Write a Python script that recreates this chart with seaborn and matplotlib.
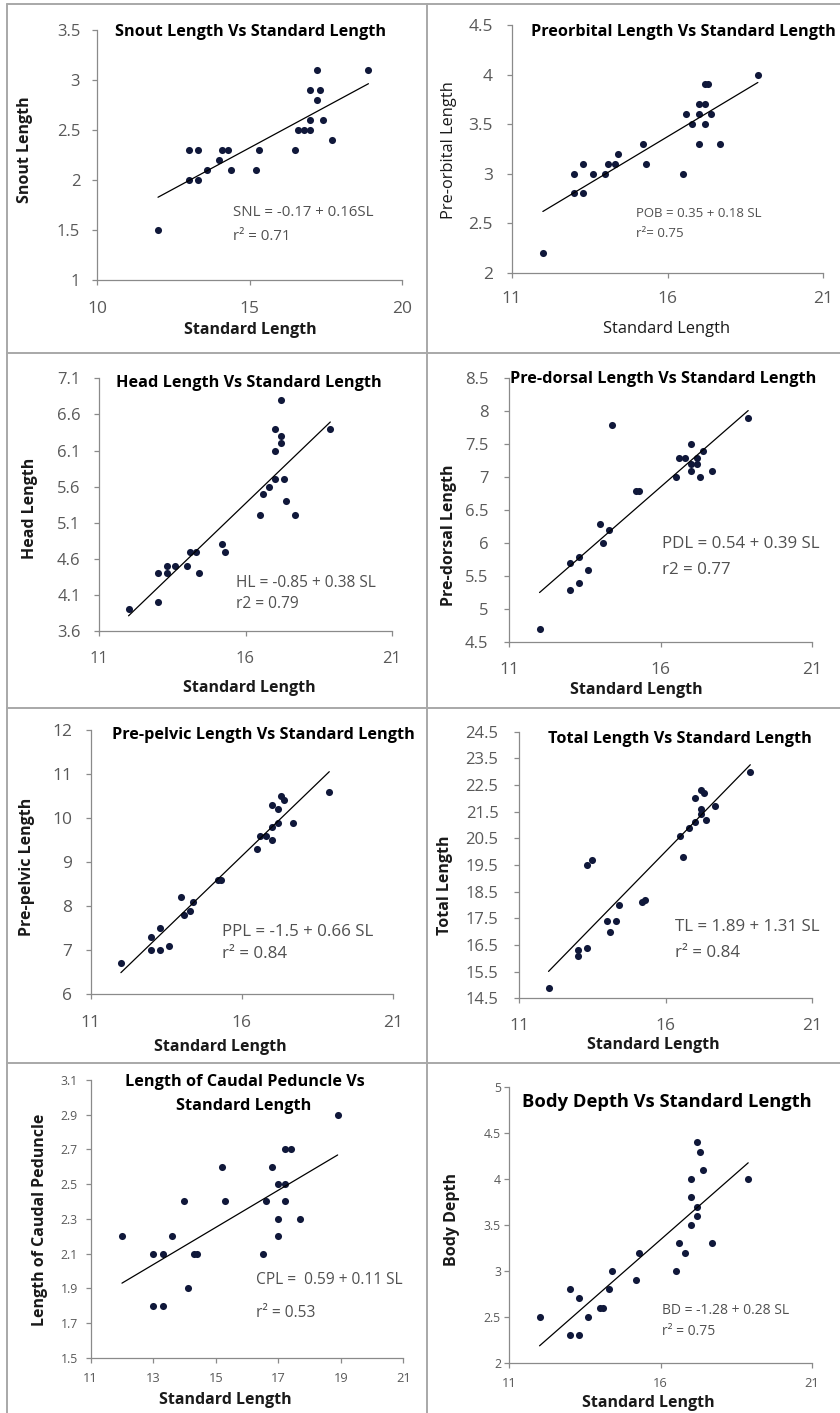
import numpy as np
import pandas as pd
import matplotlib
matplotlib.use("Agg")
import matplotlib.pyplot as plt
from matplotlib.lines import Line2D
from matplotlib.ticker import FixedLocator, FixedFormatter
import seaborn as sns

# ---- morphometric measurements (cm) against standard length ----
sl_snout = [12.0, 13.0, 13.3, 13.0, 13.3, 13.6, 14.0, 14.1, 14.3, 14.4, 15.2, 15.3,
            16.5, 16.6, 16.8, 17.0, 17.0, 17.0, 17.2, 17.2, 17.3, 17.4, 17.7, 18.9]
snout_len = [1.5, 2.3, 2.3, 2.0, 2.0, 2.1, 2.2, 2.3, 2.3, 2.1, 2.1, 2.3,
             2.3, 2.5, 2.5, 2.5, 2.6, 2.9, 2.8, 3.1, 2.9, 2.6, 2.4, 3.1]

sl_preorb = [12.0, 13.0, 13.3, 13.0, 13.3, 13.6, 14.0, 14.1, 14.3, 14.4, 15.2, 15.3,
             16.5, 16.6, 16.8, 17.0, 17.0, 17.0, 17.2, 17.3, 17.2, 17.2, 17.4, 17.7, 18.9]
preorb_len = [2.2, 2.8, 2.8, 3.0, 3.1, 3.0, 3.0, 3.1, 3.1, 3.2, 3.3, 3.1,
              3.0, 3.6, 3.5, 3.7, 3.6, 3.3, 3.9, 3.9, 3.7, 3.5, 3.6, 3.3, 4.0]

sl_head = [12.0, 13.0, 13.0, 13.3, 13.3, 13.6, 14.0, 14.1, 14.3, 14.4, 15.2, 15.3,
           16.5, 16.6, 16.8, 17.0, 17.0, 17.0, 17.2, 17.2, 17.2, 17.3, 17.4, 17.7, 18.9]
head_len = [3.9, 4.0, 4.4, 4.4, 4.5, 4.5, 4.5, 4.7, 4.7, 4.4, 4.8, 4.7,
            5.2, 5.5, 5.6, 5.7, 6.1, 6.4, 6.3, 6.2, 6.8, 5.7, 5.4, 5.2, 6.4]

sl_predors = [12.0, 13.0, 13.0, 13.3, 13.3, 13.6, 14.0, 14.1, 14.3, 14.4, 15.2, 15.3,
              16.5, 16.6, 16.8, 17.0, 17.0, 17.0, 17.2, 17.2, 17.3, 17.4, 17.7, 18.9]
predors_len = [4.7, 5.3, 5.7, 5.8, 5.4, 5.6, 6.3, 6.0, 6.2, 7.8, 6.8, 6.8,
               7.0, 7.3, 7.3, 7.5, 7.2, 7.1, 7.3, 7.2, 7.0, 7.4, 7.1, 7.9]

sl_prepel = [12.0, 13.0, 13.0, 13.3, 13.3, 13.6, 14.0, 14.1, 14.3, 14.4, 15.2, 15.3,
             16.5, 16.6, 16.8, 17.0, 17.0, 17.0, 17.2, 17.2, 17.3, 17.4, 17.7, 18.9]
prepel_len = [6.7, 7.3, 7.0, 7.5, 7.0, 7.1, 8.2, 7.8, 7.9, 8.1, 8.6, 8.6,
              9.3, 9.6, 9.6, 9.8, 9.5, 10.3, 9.9, 10.2, 10.5, 10.4, 9.9, 10.6]

sl_total = [12.0, 13.0, 13.0, 13.3, 13.3, 13.5, 14.0, 14.1, 14.3, 14.4, 15.2, 15.3,
            16.5, 16.6, 16.8, 17.0, 17.0, 17.2, 17.2, 17.3, 17.2, 17.4, 17.7, 18.9]
total_len = [14.9, 16.1, 16.3, 16.4, 19.5, 19.7, 17.4, 17.0, 17.4, 18.0, 18.1, 18.2,
             20.6, 19.8, 20.9, 22.0, 21.1, 22.3, 21.6, 22.2, 21.4, 21.2, 21.7, 23.0]

sl_caudal = [12.0, 13.0, 13.3, 13.0, 13.3, 13.6, 14.0, 14.1, 14.3, 14.4, 15.2, 15.3,
             16.5, 16.6, 16.8, 17.0, 17.0, 17.0, 17.2, 17.2, 17.2, 17.4, 17.7, 18.9]
caudal_len = [2.2, 2.1, 2.1, 1.8, 1.8, 2.2, 2.4, 1.9, 2.1, 2.1, 2.6, 2.4,
              2.1, 2.4, 2.6, 2.5, 2.3, 2.2, 2.7, 2.5, 2.4, 2.7, 2.3, 2.9]

sl_depth = [12.0, 13.0, 13.0, 13.3, 13.3, 13.6, 14.0, 14.1, 14.3, 14.4, 15.2, 15.3,
            16.5, 16.6, 16.8, 17.0, 17.0, 17.0, 17.2, 17.2, 17.2, 17.3, 17.4, 17.7, 18.9]
depth = [2.5, 2.8, 2.3, 2.7, 2.3, 2.5, 2.6, 2.6, 2.8, 3.0, 2.9, 3.2,
         3.0, 3.3, 3.2, 4.0, 3.8, 3.5, 4.4, 3.7, 3.6, 4.3, 4.1, 3.3, 4.0]

# ---- axis ticks ----
xt_snout = [10, 15, 20]
xt_std = [11, 16, 21]
xt_caudal = [11, 13, 15, 17, 19, 21]
yt_snout = ["1", "1.5", "2", "2.5", "3", "3.5"]
yt_preorb = ["2", "2.5", "3", "3.5", "4", "4.5"]
yt_head = ["3.6", "4.1", "4.6", "5.1", "5.6", "6.1", "6.6", "7.1"]
yt_predors = ["4.5", "5", "5.5", "6", "6.5", "7", "7.5", "8", "8.5"]
yt_prepel = ["6", "7", "8", "9", "10", "11", "12"]
yt_total = ["14.5", "15.5", "16.5", "17.5", "18.5", "19.5", "20.5", "21.5", "22.5", "23.5", "24.5"]
yt_caudal = ["1.5", "1.7", "1.9", "2.1", "2.3", "2.5", "2.7", "2.9", "3.1"]
yt_depth = ["2", "2.5", "3", "3.5", "4", "4.5", "5"]

W, H = 840, 1413
sns.set_theme(style="white")
plt.rcParams["font.family"] = ["Open Sans", "DejaVu Sans"]

fig = plt.figure(figsize=(W / 100, H / 100), dpi=100)
fig.patch.set_facecolor("white")

DOT = "#10183a"
TICK_C = "#595959"
SPINE_C = "#8a8a8a"
EQ_C = "#505050"


def fx(x):
    return x / W


def fy(y):
    return 1 - y / H


panels = [
    dict(x=sl_snout, y=snout_len, box=(97, 402, 30, 280), xt=xt_snout, yt=yt_snout,
         title=["Snout Length Vs Standard Length"], tpos=[(251, 32)], tsize=11.7,
         ylab="Snout Length", ypos=(25, 150), xlab="Standard Length", xpos=(250, 330),
         lbold=True, lsize=11.5, ticksize=(12.5, 12), pads=(11.5, 8.6),
         eq=["SNL = -0.17 + 0.16SL", "r\u00b2 = 0.71"], eqpos=(14.46, 1.67, 1.44), eqsize=10.8),
    dict(x=sl_preorb, y=preorb_len, box=(511.7, 823.3, 25, 272.7), xt=xt_std, yt=yt_preorb,
         title=["Preorbital Length Vs Standard Length"], tpos=[(683, 32)], tsize=11.7,
         ylab="Pre-orbital Length", ypos=(449, 150), xlab="Standard Length", xpos=(667, 329),
         lbold=False, lsize=11.8, ticksize=(12.5, 12.5), pads=(9.5, 10),
         eq=["POB = 0.35 + 0.18 SL", "r\u00b2= 0.75"], eqpos=(15.0, 2.6, 2.4), eqsize=9.5),
    dict(x=sl_head, y=head_len, box=(99.3, 391.7, 378.3, 631), xt=xt_std, yt=yt_head,
         title=["Head Length Vs Standard Length"], tpos=[(249, 383)], tsize=11.7,
         ylab="Head Length", ypos=(30, 508), xlab="Standard Length", xpos=(249, 688),
         lbold=True, lsize=11.5, ticksize=(12, 12), pads=(11, 10),
         eq=["HL = -0.85 + 0.38 SL", "r2 = 0.79"], eqpos=(15.67, 4.27, 3.98), eqsize=11.2),
    dict(x=sl_predors, y=predors_len, box=(509.3, 811.7, 378.3, 642.3), xt=xt_std, yt=yt_predors,
         title=["Pre-dorsal Length Vs Standard Length"], tpos=[(663, 379)], tsize=11.7,
         ylab="Pre-dorsal Length", ypos=(449, 535), xlab="Standard Length", xpos=(636, 690),
         lbold=True, lsize=11.5, ticksize=(12.5, 12), pads=(11, 11.5),
         eq=["PDL = 0.54 + 0.39 SL", "r2 = 0.77"], eqpos=(16.04, 5.99, 5.6), eqsize=12.2),
    dict(x=sl_prepel, y=prepel_len, box=(90.7, 392.7, 730, 994.3), xt=xt_std, yt=yt_prepel,
         title=["Pre-pelvic Length Vs Standard Length"], tpos=[(263, 735)], tsize=11.7,
         ylab="Pre-pelvic Length", ypos=(27, 867), xlab="Standard Length", xpos=(220, 1047),
         lbold=True, lsize=11.5, ticksize=(12.5, 12.5), pads=(11.5, 10),
         eq=["PPL = -1.5 + 0.66 SL", "r\u00b2 = 0.84"], eqpos=(15.34, 7.42, 6.91), eqsize=12.2),
    dict(x=sl_total, y=total_len, box=(519.3, 811.7, 731.7, 998.3), xt=xt_std, yt=yt_total,
         title=["Total Length Vs Standard Length"], tpos=[(680, 739)], tsize=11.7,
         ylab="Total Length", ypos=(445, 885), xlab="Standard Length", xpos=(653, 1045),
         lbold=True, lsize=11.5, ticksize=(12.5, 12), pads=(11, 11.5),
         eq=["TL = 1.89 + 1.31 SL", "r\u00b2 = 0.84"], eqpos=(16.33, 17.19, 16.19), eqsize=12.2),
    dict(x=sl_caudal, y=caudal_len, box=(90.7, 403.3, 1080, 1357.7), xt=xt_caudal, yt=yt_caudal,
         title=["Length of Caudal Peduncle Vs", "Standard Length"], tpos=[(245, 1082), (244, 1106)],
         tsize=11.7,
         ylab="Length of Caudal Peduncle", ypos=(40, 1220), xlab="Standard Length", xpos=(225, 1400),
         lbold=True, lsize=11.5, ticksize=(9.3, 8.8), pads=(7, 5.8),
         eq=["CPL =  0.59 + 0.11 SL", "r\u00b2 = 0.53"], eqpos=(16.29, 1.95, 1.76), eqsize=11.2),
    dict(x=sl_depth, y=depth, box=(509.3, 811.7, 1087.3, 1362.7), xt=xt_std, yt=yt_depth,
         title=["Body Depth Vs Standard Length"], tpos=[(667, 1102)], tsize=13.2,
         ylab="Body Depth", ypos=(452, 1220), xlab="Standard Length", xpos=(648, 1403),
         lbold=True, lsize=11.5, ticksize=(9.3, 8.8), pads=(7, 2.5),
         eq=["BD = -1.28 + 0.28 SL", "r\u00b2 = 0.75"], eqpos=(16.04, 2.57, 2.34), eqsize=10),
]

for p in panels:
    l, r, t, b = p["box"]
    ax = fig.add_axes([fx(l), fy(b), (r - l) / W, (b - t) / H])
    df = pd.DataFrame({"SL": p["x"], "Y": p["y"]})
    sns.regplot(data=df, x="SL", y="Y", ax=ax, ci=None, truncate=True,
                scatter_kws=dict(s=26, color=DOT, linewidths=0, alpha=1),
                line_kws=dict(color="black", lw=0.9))

    yvals = [float(v) for v in p["yt"]]
    ax.set_xlim(p["xt"][0], p["xt"][-1])
    ax.set_ylim(yvals[0], yvals[-1])
    ax.xaxis.set_major_locator(FixedLocator(p["xt"]))
    ax.xaxis.set_major_formatter(FixedFormatter([str(v) for v in p["xt"]]))
    ax.yaxis.set_major_locator(FixedLocator(yvals))
    ax.yaxis.set_major_formatter(FixedFormatter(p["yt"]))

    for side in ("top", "right"):
        ax.spines[side].set_visible(False)
    for side in ("left", "bottom"):
        ax.spines[side].set_color(SPINE_C)
        ax.spines[side].set_linewidth(0.9)
    ax.tick_params(axis="both", direction="out", length=3.5, width=0.9, color=SPINE_C,
                   labelcolor=TICK_C, bottom=True, left=True)
    ax.tick_params(axis="x", labelsize=p["ticksize"][0], pad=p["pads"][0])
    ax.tick_params(axis="y", labelsize=p["ticksize"][1], pad=p["pads"][1])
    ax.set_facecolor("none")

    weight = "bold" if p["lbold"] else "normal"
    ax.set_xlabel(p["xlab"], fontsize=p["lsize"], fontweight=weight, color="#1a1a1a")
    ax.set_ylabel(p["ylab"], fontsize=p["lsize"], fontweight=weight, color="#1a1a1a")
    ax.xaxis.set_label_coords(fx(p["xpos"][0]), fy(p["xpos"][1]), transform=fig.transFigure)
    ax.yaxis.set_label_coords(fx(p["ypos"][0]), fy(p["ypos"][1]), transform=fig.transFigure)
    ax.xaxis.label.set_va("center")
    ax.yaxis.label.set_va("center")

    for txt, (cx, cy) in zip(p["title"], p["tpos"]):
        fig.text(fx(cx), fy(cy), txt, ha="center", va="center",
                 fontsize=p["tsize"], fontweight="bold", color="black")

    ex, ey1, ey2 = p["eqpos"]
    ax.text(ex, ey1, p["eq"][0], ha="left", va="center", fontsize=p["eqsize"], color=EQ_C)
    ax.text(ex, ey2, p["eq"][1], ha="left", va="center", fontsize=p["eqsize"], color=EQ_C)

# ---- table grid framing the eight charts ----
GRID_C = "#a8a8a8"
grid_lines = [
    ((7, 7), (4, H)),
    ((427, 427), (4, H)),
    ((7, W), (4, 4)),
    ((7, W), (353, 353)),
    ((7, W), (708, 708)),
    ((7, W), (1063, 1063)),
]
for xs, ys in grid_lines:
    fig.add_artist(Line2D([fx(v) for v in xs], [fy(v) for v in ys],
                          color=GRID_C, lw=1.4, transform=fig.transFigure))

fig.savefig("out.png", dpi=100, facecolor="white")
